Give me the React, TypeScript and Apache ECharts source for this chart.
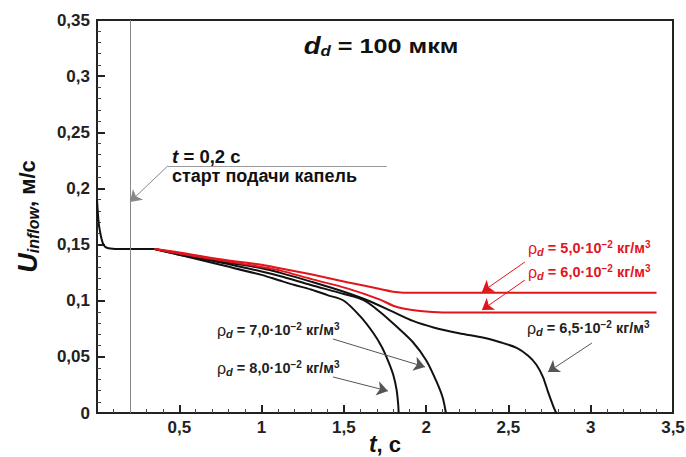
import React, { useEffect, useRef } from "react";
import * as echarts from "echarts";

// ---- data ----
const T_START = 0.2;
const PREFIX_T = [0, 0.004, 0.008, 0.012, 0.018, 0.026, 0.036, 0.05, 0.08, 0.15, 0.25, 0.35];
const PREFIX_U = [0.19, 0.181, 0.173, 0.167, 0.162, 0.156, 0.151, 0.148, 0.1465, 0.146, 0.146, 0.146];

const R50_T = [0.35, 0.5, 0.75, 1.0, 1.11, 1.3, 1.52, 1.72, 1.8, 1.86, 1.95, 2.1, 3.4];
const R50_U = [0.146, 0.143, 0.137, 0.132, 0.129, 0.1235, 0.1165, 0.1105, 0.108, 0.1072, 0.107, 0.107, 0.107];

const R60_T = [0.35, 0.5, 0.75, 1.0, 1.11, 1.31, 1.52, 1.72, 1.8, 1.86, 1.95, 2.1, 3.4];
const R60_U = [0.146, 0.142, 0.136, 0.13, 0.127, 0.119, 0.111, 0.101, 0.0955, 0.093, 0.091, 0.0895, 0.0895];

const B65_T = [0.35, 0.5, 0.75, 1.0, 1.11, 1.3, 1.5, 1.65, 1.8, 1.92, 2.05, 2.2, 2.35, 2.45, 2.55, 2.62, 2.67, 2.71, 2.74, 2.77, 2.79];
const B65_U = [0.146, 0.142, 0.135, 0.129, 0.125, 0.117, 0.108, 0.1, 0.09, 0.082, 0.076, 0.071, 0.067, 0.063, 0.058, 0.051, 0.043, 0.032, 0.019, 0.007, 0];

const B70_T = [0.35, 0.5, 0.75, 1.0, 1.11, 1.3, 1.5, 1.62, 1.72, 1.82, 1.92, 2.0, 2.06, 2.1, 2.12];
const B70_U = [0.146, 0.141, 0.134, 0.126, 0.122, 0.114, 0.106, 0.1005, 0.09, 0.077, 0.063, 0.047, 0.029, 0.014, 0];

const B80_T = [0.35, 0.5, 0.75, 1.0, 1.11, 1.2, 1.3, 1.4, 1.5, 1.6, 1.68, 1.73, 1.77, 1.8, 1.82, 1.83, 1.833];
const B80_U = [0.146, 0.141, 0.132, 0.123, 0.118, 0.114, 0.11, 0.105, 0.1, 0.086, 0.071, 0.059, 0.046, 0.034, 0.021, 0.008, 0];

// annotation arrows (data coordinates: [t, U])
const LEADER_START: number[][] = [[1.76, 0.22], [0.43, 0.22]];
const ARROW_START: number[][] = [[0.43, 0.22], [0.2005, 0.188]];
const ARROW_R50: number[][] = [[2.6, 0.1345], [2.339, 0.1078]];
const ARROW_R60: number[][] = [[2.6, 0.1184], [2.339, 0.0917]];
const ARROW_B65: number[][] = [[3.007, 0.0623], [2.74, 0.0365]];
const ARROW_B70: number[][] = [[1.434, 0.0659], [1.993, 0.041]];
const ARROW_B80: number[][] = [[1.434, 0.0321], [1.768, 0.0196]];

const LABEL_DENS = ["5,0", "6,0", "6,5", "7,0", "8,0"];

const zip = (t: number[], u: number[]) => t.map((v, i) => [v, u[i]]);

const RED = "#e3151c";
const BLACK = "#111";
const FONT = "Liberation Sans";

const fmt = (v: number) => {
  const s = parseFloat(v.toFixed(3)).toString();
  return s.replace(".", ",");
};

const rhoRich = (color: string) => ({
  r: { fontFamily: FONT, fontSize: 16, fill: color, fontWeight: "normal" as const },
  d: { fontFamily: FONT, fontSize: 11, fill: color, fontWeight: "bold" as const, fontStyle: "italic" as const, padding: [7, 0, 0, 0] },
  t: { fontFamily: FONT, fontSize: 14.5, fill: color, fontWeight: "bold" as const },
  sup: { fontFamily: FONT, fontSize: 10, fill: color, fontWeight: "bold" as const, padding: [0, 0, 7, 0] },
});

const rhoText = (d: string) => `{r|ρ}{d|d}{t| = ${d}·10}{sup|−2}{t| кг/м}{sup|3}`;

export default function App() {
  const ref = useRef<HTMLDivElement>(null);
  useEffect(() => {
    if (!ref.current) return;
    const chart = echarts.init(ref.current, null, { renderer: "svg" });

    const lineSeries = (data: number[][], color: string, z: number) => ({
      type: "line",
      data,
      showSymbol: false,
      symbol: "none",
      smooth: 0.3,
      lineStyle: { color, width: 2 },
      z,
      silent: true,
    });

    const arrowSeries = (items: number[][][], color: string, width: number, head = true) => ({
      type: "lines",
      coordinateSystem: "cartesian2d",
      polyline: false,
      symbol: head ? ["none", "arrow"] : ["none", "none"],
      symbolSize: 11,
      lineStyle: { color, width, opacity: 1, curveness: 0 },
      data: items.map((c) => ({ coords: c })),
      z: 5,
      silent: true,
    });

    const option: any = {
      animation: false,
      grid: {
        left: 97,
        top: 20,
        right: 13,
        bottom: 44,
        show: true,
        borderColor: "#222",
        borderWidth: 2,
        backgroundColor: "transparent",
        outerBoundsMode: "none",
        containLabel: false,
      },
      xAxis: {
        type: "value",
        min: 0,
        max: 3.5,
        interval: 0.5,
        name: "{i|t}{n|, с}",
        nameLocation: "middle",
        nameGap: 20,
        nameMoveOverlap: false,
        nameTextStyle: {
          lineHeight: 22,
          rich: {
            i: { fontFamily: FONT, fontSize: 23, lineHeight: 22, fontWeight: "bold", fontStyle: "italic", color: "#111" },
            n: { fontFamily: FONT, fontSize: 22, lineHeight: 22, fontWeight: "bold", color: "#111" },
          },
        },
        axisLine: { show: true, lineStyle: { color: "#222", width: 2 } },
        axisTick: { show: true, inside: true, length: 8, lineStyle: { color: "#222", width: 2 } },
        minorTick: { show: true, splitNumber: 5, length: 4, lineStyle: { color: "#444", width: 1 } },
        splitLine: { show: false },
        axisLabel: {
          margin: 6,
          fontFamily: FONT,
          fontSize: 17,
          fontWeight: "bold",
          color: "#222",
          formatter: (v: number) => (v === 0 ? "" : fmt(v)),
        },
      },
      yAxis: {
        type: "value",
        min: 0,
        max: 0.35,
        interval: 0.05,
        name: "{u|U}{s|inflow}{n|, м/с}",
        nameLocation: "middle",
        nameRotate: 90,
        nameGap: 56,
        nameMoveOverlap: false,
        nameTextStyle: {
          rich: {
            u: { fontFamily: FONT, fontSize: 27, fontWeight: "bold", fontStyle: "italic", color: "#111" },
            s: { fontFamily: FONT, fontSize: 16, fontWeight: "bold", fontStyle: "italic", color: "#111", padding: [11, 0, 0, 0] },
            n: { fontFamily: FONT, fontSize: 22, fontWeight: "bold", color: "#111" },
          },
        },
        axisLine: { show: true, lineStyle: { color: "#222", width: 2 } },
        axisTick: { show: true, inside: true, length: 8, lineStyle: { color: "#222", width: 2 } },
        minorTick: { show: true, splitNumber: 5, length: 4, lineStyle: { color: "#444", width: 1 } },
        splitLine: { show: false },
        axisLabel: {
          margin: 7,
          fontFamily: FONT,
          fontSize: 17,
          fontWeight: "bold",
          color: "#222",
          formatter: (v: number) => fmt(v),
        },
      },
      series: [
        {
          ...lineSeries(zip(PREFIX_T, PREFIX_U), BLACK, 3),
          smooth: 0.2,
          markLine: {
            silent: true,
            symbol: ["none", "none"],
            label: { show: false },
            lineStyle: { color: "#888", width: 1, type: "solid" },
            data: [{ xAxis: T_START }],
          },
        },
        lineSeries(zip(B65_T, B65_U), BLACK, 3),
        lineSeries(zip(B70_T, B70_U), BLACK, 3),
        lineSeries(zip(B80_T, B80_U), BLACK, 3),
        lineSeries(zip(R60_T, R60_U), RED, 4),
        lineSeries(zip(R50_T, R50_U), RED, 4),
        arrowSeries([LEADER_START], "#999", 1, false),
        arrowSeries([ARROW_START], "#888", 1),
        arrowSeries([ARROW_R50, ARROW_R60], RED, 1),
        arrowSeries([ARROW_B65, ARROW_B70, ARROW_B80], "#555", 1),
      ],
      graphic: [
        {
          type: "text",
          x: 381,
          y: 46,
          scaleX: 1.2,
          style: {
            text: "{i|d}{s|d}{n| = 100 мкм}",
            align: "center",
            verticalAlign: "middle",
            rich: {
              i: { fontFamily: FONT, fontSize: 23, fontWeight: "bold", fontStyle: "italic", fill: "#111" },
              s: { fontFamily: FONT, fontSize: 14, fontWeight: "bold", fontStyle: "italic", fill: "#111", padding: [10, 0, 0, 0] },
              n: { fontFamily: FONT, fontSize: 21, fontWeight: "bold", fill: "#111" },
            },
          },
        },
        {
          type: "text",
          x: 172,
          y: 156,
          style: {
            text: "{i|t}{n| = 0,2 с}",
            verticalAlign: "middle",
            rich: {
              i: { fontFamily: FONT, fontSize: 19, fontWeight: "bold", fontStyle: "italic", fill: "#111" },
              n: { fontFamily: FONT, fontSize: 18.5, fontWeight: "bold", fill: "#111" },
            },
          },
        },
        {
          type: "text",
          x: 172,
          y: 176,
          style: {
            text: "старт подачи капель",
            font: `bold 18px "${FONT}"`,
            fill: "#111",
            verticalAlign: "middle",
          },
        },
        {
          type: "text",
          x: 528,
          y: 248,
          style: { text: rhoText(LABEL_DENS[0]), verticalAlign: "middle", rich: rhoRich(RED) },
        },
        {
          type: "text",
          x: 528,
          y: 272,
          style: { text: rhoText(LABEL_DENS[1]), verticalAlign: "middle", rich: rhoRich(RED) },
        },
        {
          type: "text",
          x: 527,
          y: 328,
          style: { text: rhoText(LABEL_DENS[2]), verticalAlign: "middle", rich: rhoRich("#222") },
        },
        {
          type: "text",
          x: 217,
          y: 330,
          style: { text: rhoText(LABEL_DENS[3]), verticalAlign: "middle", rich: rhoRich("#222") },
        },
        {
          type: "text",
          x: 217,
          y: 368,
          style: { text: rhoText(LABEL_DENS[4]), verticalAlign: "middle", rich: rhoRich("#222") },
        },
      ],
    };
    chart.setOption(option);
    return () => chart.dispose();
  }, []);
  return (
    <div
      ref={ref}
      style={{ position: "absolute", left: 0, top: 0, width: 686, height: 457, background: "#fff" }}
    />
  );
}
